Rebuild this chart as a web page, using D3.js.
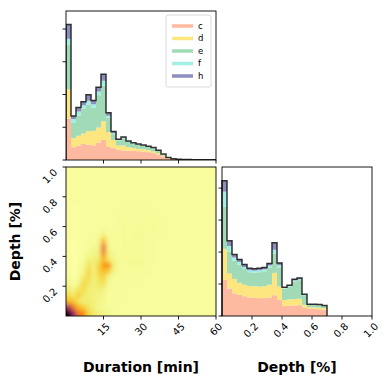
<!DOCTYPE html>
<html><head><meta charset="utf-8">
<script src="https://cdn.jsdelivr.net/npm/d3@7"></script>
<style>
html,body{margin:0;padding:0;background:#fff;}
svg{display:block;font-family:"DejaVu Sans",sans-serif;}
</style></head>
<body>
<svg id="chart" width="391" height="383"></svg>
<script>
// ---------- DATA ----------
const seriesNames = ["c","d","e","f","h"];
const seriesColors = ["#fdbaa1","#fde57f","#a0dab6","#a2efe6","#8e8ec0"];

// Duration histogram (2-min bins, 0..60)
const durEdges = [0,2,4,6,8,10,12,14,16,18,20,22,24,26,28,30,32,34,36,38,40,42,44,46,48,50,52,54,56,58,60];
const durC = [1.26,0.39,0.44,0.49,0.47,0.45,0.53,0.62,0.40,0.36,0.31,0.29,0.28,0.28,0.27,0.26,0.24,0.21,0.17,0.11,0.05,0.025,0.018,0.013,0.010,0.008,0.006,0.005,0.004,0.003];
const durD = [0.90,0.28,0.30,0.32,0.41,0.44,0.46,0.56,0.45,0.25,0.13,0.15,0.11,0.09,0.07,0.07,0.06,0.05,0.04,0.02,0.01,0.005,0.003,0.003,0.002,0.002,0.001,0.001,0.001,0.001];
const durE = [1.35,0.46,0.61,0.76,0.81,0.71,0.99,1.09,0.45,0.18,0.15,0.22,0.16,0.13,0.12,0.11,0.10,0.10,0.07,0.04,0.015,0.005,0.003,0.002,0.002,0.001,0.001,0.001,0.001,0.001];
const durF = [0.19,0.12,0.13,0.10,0.12,0.10,0.11,0.15,0.05,0.03,0.02,0.02,0.02,0.015,0.015,0.01,0.01,0.01,0.01,0.005,0.003,0,0,0,0,0,0,0,0,0];
const durH = [0.44,0.09,0.12,0.11,0.18,0.12,0.13,0.20,0.09,0.05,0.02,0.02,0.01,0.01,0.01,0.01,0.01,0.01,0.01,0.005,0.002,0,0,0,0,0,0,0,0,0];

// Depth histogram (1/30 bins, data up to 0.7)
const depEdges = [0,0.0333,0.0667,0.1,0.1333,0.1667,0.2,0.2333,0.2667,0.3,0.3333,0.3667,0.4,0.4333,0.4667,0.5,0.5333,0.5667,0.6,0.6333,0.6667,0.7];
const depC = [1.13,0.86,0.71,0.66,0.62,0.58,0.57,0.56,0.56,0.58,0.65,0.50,0.31,0.32,0.33,0.34,0.25,0.22,0.22,0.21,0.20];
const depD = [0.97,0.47,0.45,0.38,0.36,0.36,0.36,0.36,0.37,0.40,0.70,0.42,0.19,0.20,0.20,0.20,0.10,0.05,0.05,0.05,0.05];
const depE = [1.32,0.68,0.57,0.57,0.49,0.43,0.43,0.45,0.47,0.54,0.60,0.60,0.36,0.40,0.55,0.58,0.30,0.08,0.08,0.08,0.07];
const depF = [0.47,0.18,0.10,0.08,0.06,0.06,0.06,0.06,0.06,0.06,0.12,0.07,0.02,0.02,0.03,0.03,0.02,0.01,0.01,0.01,0.005];
const depH = [0.34,0.16,0.09,0.08,0.08,0.06,0.06,0.06,0.06,0.06,0.22,0.07,0.02,0.02,0.04,0.04,0.01,0.01,0.01,0.01,0.005];

// 2D density (intensity 0..100), rows from top (depth 0.96-1.0) to bottom (0-0.04), 2-min columns
const densityRows = [
[1,1,1,1,1,1,1,1,1,1,1,1,1,1,1,1,1,1,1,1,1,1,1,1,1,1,1,1,1,1],
[1,1,1,1,1,1,1,1,1,1,1,1,1,1,1,1,1,1,1,1,1,1,1,1,1,1,1,1,1,1],
[1,1,1,1,1,1,1,1,1,1,1,1,1,1,1,1,1,1,1,1,1,1,1,1,1,1,1,1,1,1],
[1,1,1,1,1,1,1,1,1,1,1,1,1,1,1,1,1,1,1,1,1,1,1,1,1,1,1,1,1,1],
[1,1,1,1,1,1,1,1,1,1,1,1,1,1,1,1,1,1,1,1,1,1,1,1,1,1,1,1,1,1],
[1,0.8,0.8,1,1,1,1,1,1,1,1,1,1,1,1,1,1,1,1,1,1,1,1,1,1,1,1,1,1,1],
[1,0.6,0.6,1,1,1,1,1,1,1,1,1.2,1.3,1.3,1.3,1.2,1.1,1,1,1,1,1,1,1,1,1,1,1,1,1],
[1,0.6,0.6,1,1,1,1,1,1,1,1,1.3,1.5,1.5,1.5,1.5,1.4,1.2,1,1,1,1,1,1,1,1,1,1,1,1],
[1,0.5,0.5,1,1,1,1,1,1,1,1.3,1.4,1.6,1.4,1.4,1.5,1.6,1.5,1.2,1,1,1,1,1,1,1,1,1,1,1],
[1,0.5,0.5,1,1,1,1,1,1,1,1.4,1.6,1.4,1.3,1.4,1.4,1.5,1.6,1.3,1,1,1,1,1,1,1,1,1,1,1],
[1,0.5,0.5,1,1,1,1,1.5,1,1,1.4,1.6,1.4,1.5,1.6,1.4,1.4,1.6,1.3,1,1,1,1,1,1,1,1,1,1,1],
[1,0.4,0.6,1,1,1,1.5,5,1.5,1.2,1.4,1.6,1.5,1.6,1.6,1.6,1.4,1.4,1.2,1,1,1,1,1,1,1,1,1,1,1],
[1,0.3,0.5,1,1,1.5,2,18,2,1.2,1.5,1.6,1.6,1.5,1.6,1.4,1.4,1.3,1,1,1,1,1,1,1,1,1,1,1,1],
[1,0.3,0.5,1,1.5,2,3,36,3,1.5,1.5,1.6,1.5,1.5,1.6,1.6,1.4,1.3,1,1,1,1,1,1,1,1,1,1,1,1],
[1,0.3,0.5,1,2,3,4,30,4,2,1.5,1.6,1.6,1.6,1.6,1.5,1.4,1.2,1,1,1,1,1,1,1,1,1,1,1,1],
[1,0.3,0.6,1.5,4,4,6,17,6,3,1.6,1.5,1.6,1.6,1.7,1.6,1.3,1.2,1,1,1,1,1,1,1,1,1,1,1,1],
[1.2,0.3,0.8,2,8,4,10,22,26,5,1.8,1.5,1.6,1.7,1.6,1.6,1.3,1.1,1,1,1,1,1,1,1,1,1,1,1,1],
[1.5,0.3,1,3,10,4,10,16,12,3,1.6,1.5,1.5,1.5,1.4,1.3,1.2,1,1,1,1,1,1,1,1,1,1,1,1,1],
[2,0.3,1.5,6,10,4,8,11,3,1.8,1.4,1.3,1.3,1.2,1.2,1.1,1,1,1,1,1,1,1,1,1,1,1,1,1,1],
[3,0.5,3,10,7,4,7,8,2,1.5,1.3,1.2,1.2,1.1,1,1,1,1,1,1,1,1,1,1,1,1,1,1,1,1],
[5,3,7,9,5,4,5,4,1.5,1.3,1.2,1.1,1,1,1,1,1,1,1,1,1,1,1,1,1,1,1,1,1,1],
[9,6,12,6,5,4,4,3,1.5,1.3,1.2,1.1,1,1,1,1,1,1,1,1,1,1,1,1,1,1,1,1,1,1],
[16,14,7,5,5,4,3,2.5,1.5,1.3,1.2,1,1,1,1,1,1,1,1,1,1,1,1,1,1,1,1,1,1,1],
[55,30,16,12,7,4,3,2,1.5,1.2,1.1,1,1,1,1,1,1,1,1,1,1,1,1,1,1,1,1,1,1,1],
[100,60,30,26,10,6,4,3,2,1.5,1.2,1,1,1,1,1,1,1,1,1,1,1,1,1,1,1,1,1,1,1]
];
const densityBackground = 1;

const durTicks = [15,30,45,60];
const depTicks = [0.2,0.4,0.6,0.8,1.0];
const countTicks = [0,1,2,3,4];

// ---------- LAYOUT ----------
const svg = d3.select("#chart");
const topB = {l:66, r:216, t:11, b:160};
const hm  = {l:66, r:216, t:167, b:316};
const rh  = {l:222, r:372, t:167, b:316};

const xDur = d3.scaleLinear().domain([0,60]).range([hm.l, hm.r]);
const yDep = d3.scaleLinear().domain([0,1]).range([hm.b, hm.t]);
const xDep = d3.scaleLinear().domain([0,1]).range([rh.l, rh.r]);
const yTop = d3.scaleLinear().domain([0,4.55]).range([topB.b, topB.t]);
const yRh  = d3.scaleLinear().domain([0,4.66]).range([rh.b, rh.t]);

const defs = svg.append("defs");

function stackedHist(g, edges, layers, xs, ys) {
  const n = layers[0].length;
  for (let i = 0; i < n; i++) {
    let acc = 0;
    layers.forEach((arr, k) => {
      const v = arr[i];
      if (v <= 0) return;
      g.append("rect")
        .attr("x", xs(edges[i]))
        .attr("width", xs(edges[i+1]) - xs(edges[i]))
        .attr("y", ys(acc + v))
        .attr("height", ys(acc) - ys(acc + v))
        .attr("fill", seriesColors[k]);
      acc += v;
    });
  }
  const pts = [[edges[0], 0]];
  for (let i = 0; i < n; i++) {
    const tot = layers.reduce((s, a) => s + a[i], 0);
    pts.push([edges[i], tot], [edges[i+1], tot]);
  }
  pts.push([edges[n], 0]);
  g.append("path")
    .attr("d", d3.line().x(d => xs(d[0])).y(d => ys(d[1]))(pts))
    .attr("fill", "none").attr("stroke", "#1e1e1e").attr("stroke-width", 1.5)
    .attr("stroke-opacity", 0.9).attr("stroke-linejoin", "miter");
}

function frame(b) {
  svg.append("rect").attr("x", b.l).attr("y", b.t)
    .attr("width", b.r - b.l).attr("height", b.b - b.t)
    .attr("fill", "none").attr("stroke", "#000").attr("stroke-width", 0.9);
}

// ---------- TOP HISTOGRAM ----------
defs.append("clipPath").attr("id","clipTop").append("rect")
  .attr("x", topB.l).attr("y", topB.t).attr("width", topB.r-topB.l).attr("height", topB.b-topB.t);
const gTop = svg.append("g").attr("clip-path","url(#clipTop)");
stackedHist(gTop, durEdges, [durC,durD,durE,durF,durH], xDur, yTop);

// ---------- RIGHT HISTOGRAM ----------
const gRh = svg.append("g");
stackedHist(gRh, depEdges, [depC,depD,depE,depF,depH], xDep, yRh);

// ---------- HEATMAP ----------
const nRows = densityRows.length, nCols = densityRows[0].length;
const colW = 60 / nCols, rowH = 1 / nRows;
const color = t => d3.interpolateInferno(Math.max(0, 1 - t / 100));
defs.append("clipPath").attr("id","clipHm").append("rect")
  .attr("x", hm.l).attr("y", hm.t).attr("width", hm.r-hm.l).attr("height", hm.b-hm.t);
const blur = defs.append("filter").attr("id","blurHm")
  .attr("x", -0.1).attr("y", -0.1).attr("width", 1.2).attr("height", 1.2);
blur.append("feGaussianBlur").attr("stdDeviation", 2.0);
const gHmOuter = svg.append("g").attr("clip-path","url(#clipHm)");
gHmOuter.append("rect").attr("x", hm.l).attr("y", hm.t)
  .attr("width", hm.r-hm.l).attr("height", hm.b-hm.t).attr("fill", color(densityBackground));
const gHm = gHmOuter.append("g").attr("filter","url(#blurHm)");
const pad = 12;
densityRows.forEach((row, r) => {
  const j = nRows - 1 - r;
  row.forEach((v, i) => {
    let x0 = xDur(i * colW), x1 = xDur((i + 1) * colW);
    let y0 = yDep((j + 1) * rowH), y1 = yDep(j * rowH);
    if (i === 0) x0 -= pad;
    if (i === nCols - 1) x1 += pad;
    if (j === 0) y1 += pad;
    if (j === nRows - 1) y0 -= pad;
    gHm.append("rect").attr("x", x0).attr("y", y0)
      .attr("width", x1 - x0 + 0.5).attr("height", y1 - y0 + 0.5)
      .attr("fill", color(v));
  });
});

frame(topB); frame(hm); frame(rh);

// ---------- AXES / TICKS ----------
const tickLen = 3.5;
const tk = svg.append("g").attr("stroke", "#000").attr("stroke-width", 0.9);
durTicks.forEach(v => tk.append("line").attr("x1", xDur(v)).attr("x2", xDur(v)).attr("y1", topB.b).attr("y2", topB.b + tickLen));
countTicks.forEach(v => tk.append("line").attr("x1", topB.l).attr("x2", topB.l - tickLen).attr("y1", yTop(v)).attr("y2", yTop(v)));
durTicks.forEach(v => tk.append("line").attr("x1", xDur(v)).attr("x2", xDur(v)).attr("y1", hm.b).attr("y2", hm.b + tickLen));
depTicks.forEach(v => tk.append("line").attr("x1", hm.l).attr("x2", hm.l - tickLen).attr("y1", yDep(v)).attr("y2", yDep(v)));
depTicks.forEach(v => tk.append("line").attr("x1", xDep(v)).attr("x2", xDep(v)).attr("y1", rh.b).attr("y2", rh.b + tickLen));
countTicks.forEach(v => tk.append("line").attr("x1", rh.l).attr("x2", rh.l - tickLen).attr("y1", yRh(v)).attr("y2", yRh(v)));

const lab = svg.append("g").attr("font-size", 10).attr("fill", "#000");
durTicks.forEach(v => {
  const x = xDur(v) + 5, y = hm.b + 9;
  lab.append("text").attr("x", x).attr("y", y).attr("text-anchor", "end")
    .attr("dominant-baseline", "middle").attr("transform", `rotate(-45,${x},${y})`).text(String(v));
});
depTicks.forEach(v => {
  const x = xDep(v) + 5, y = rh.b + 9;
  lab.append("text").attr("x", x).attr("y", y).attr("text-anchor", "end")
    .attr("dominant-baseline", "middle").attr("transform", `rotate(-45,${x},${y})`).text(v.toFixed(1));
});
depTicks.forEach(v => {
  const x = hm.l - 10, y = yDep(v) + 4;
  lab.append("text").attr("x", x).attr("y", y).attr("text-anchor", "end")
    .attr("dominant-baseline", "middle").attr("transform", `rotate(-45,${x},${y})`).text(v.toFixed(1));
});

svg.append("text").attr("x", (hm.l + hm.r) / 2).attr("y", 372).attr("text-anchor", "middle")
  .attr("font-size", 14).attr("font-weight", "bold").text("Duration [min]");
svg.append("text").attr("x", (rh.l + rh.r) / 2).attr("y", 372).attr("text-anchor", "middle")
  .attr("font-size", 14).attr("font-weight", "bold").text("Depth [%]");
svg.append("text").attr("transform", `translate(20,${(hm.t + hm.b) / 2}) rotate(-90)`)
  .attr("text-anchor", "middle").attr("font-size", 14).attr("font-weight", "bold").text("Depth [%]");

// ---------- LEGEND ----------
const lg = svg.append("g");
lg.append("rect").attr("x", 166).attr("y", 15).attr("width", 45).attr("height", 72)
  .attr("rx", 2).attr("fill", "#fff").attr("fill-opacity", 0.8).attr("stroke", "#d0d0d0").attr("stroke-width", 0.8);
seriesNames.forEach((nm, k) => {
  const y = 26 + k * 12.5;
  lg.append("line").attr("x1", 172).attr("x2", 193).attr("y1", y).attr("y2", y)
    .attr("stroke", seriesColors[k]).attr("stroke-width", 3.5);
  lg.append("text").attr("x", 198).attr("y", y).attr("dominant-baseline", "middle")
    .attr("font-size", 8.5).text(nm);
});
</script>
</body></html>
